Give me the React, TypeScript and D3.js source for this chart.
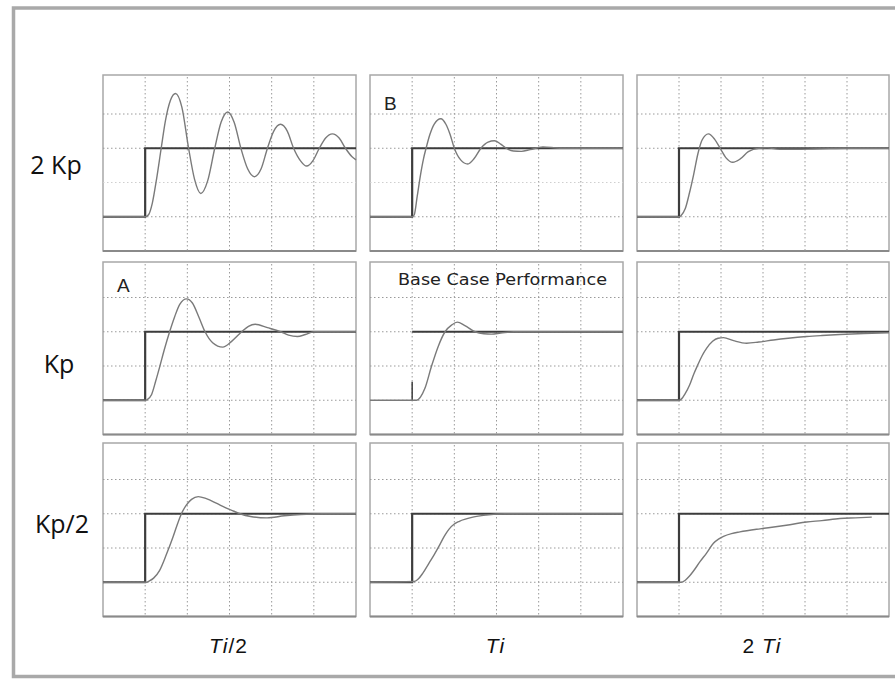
import React from "react";
import * as d3 from "d3";

const rowLabels = ["2 Kp", "Kp", "Kp/2"];
const colLabels = [
  { it: "Ti", rest: "/2", pre: "" },
  { it: "Ti", rest: "", pre: "" },
  { it: "Ti", rest: "", pre: "2 " },
];
const gridTimes = [1, 2, 3, 4, 5];
const gridLevels = [1.5, 1, 0.5, 0];
const stepTime = 1;
const setpointLow = 0;
const setpointHigh = 1;

// responses, [time, value]; rows: 2Kp, Kp, Kp/2 ; cols: Ti/2, Ti, 2Ti
const r2KpHalfTi: [number, number][] = [
  [0, 0], [1, 0], [1.08, 0.03], [1.17, 0.2], [1.27, 0.55], [1.38, 1.0], [1.48, 1.4], [1.6, 1.7], [1.72, 1.8],
  [1.87, 1.6], [2.03, 1.0], [2.17, 0.55], [2.32, 0.34], [2.48, 0.52], [2.65, 1.0], [2.8, 1.38], [2.96, 1.53],
  [3.11, 1.38], [3.27, 1.0], [3.43, 0.7], [3.59, 0.585], [3.75, 0.7], [3.9, 1.0], [4.05, 1.25], [4.21, 1.35],
  [4.37, 1.25], [4.52, 1.0], [4.68, 0.82], [4.83, 0.74], [4.98, 0.82], [5.13, 1.0], [5.28, 1.15], [5.44, 1.21],
  [5.6, 1.15], [5.75, 1.0], [5.9, 0.88], [6.0, 0.83],
];
const r2KpTi: [number, number][] = [
  [0, 0], [1, 0], [1.05, 0.03], [1.12, 0.3], [1.2, 0.62], [1.27, 0.85], [1.33, 1.0], [1.42, 1.2], [1.52, 1.35],
  [1.68, 1.43], [1.8, 1.35], [1.9, 1.2], [2.0, 1.0], [2.15, 0.83], [2.32, 0.77], [2.47, 0.85], [2.63, 1.0],
  [2.8, 1.09], [2.95, 1.11], [3.1, 1.06], [3.23, 1.0], [3.4, 0.96], [3.59, 0.955], [3.8, 0.98], [4.1, 1.02],
  [4.5, 1.0], [5, 1.0], [6, 1.0],
];
const r2Kp2Ti: [number, number][] = [
  [0, 0], [1, 0], [1.05, 0.02], [1.15, 0.12], [1.25, 0.35], [1.35, 0.62], [1.45, 0.92], [1.55, 1.12], [1.7, 1.21],
  [1.85, 1.13], [1.98, 1.0], [2.12, 0.86], [2.28, 0.795], [2.45, 0.84], [2.65, 0.95], [2.9, 1.0], [3.1, 1.005],
  [3.4, 0.985], [3.8, 0.985], [4.2, 0.99], [4.6, 0.995], [5, 1.0], [6, 1.0],
];
const rKpHalfTi: [number, number][] = [
  [0, 0], [1, 0], [1.05, 0.01], [1.15, 0.08], [1.25, 0.28], [1.35, 0.5], [1.45, 0.73], [1.58, 1.0], [1.7, 1.22],
  [1.82, 1.4], [1.98, 1.48], [2.12, 1.42], [2.27, 1.22], [2.42, 1.0], [2.6, 0.84], [2.84, 0.776], [3.05, 0.86],
  [3.29, 1.0], [3.45, 1.08], [3.61, 1.11], [3.9, 1.06], [4.21, 1.0], [4.4, 0.95], [4.61, 0.93], [4.8, 0.96],
  [5.0, 1.0], [5.5, 1.0], [6, 1.0],
];
const rKpTi: [number, number][] = [
  [0, 0], [1, 0], [1.1, 0], [1.2, 0.05], [1.3, 0.17], [1.46, 0.5], [1.62, 0.79], [1.78, 1.0], [1.94, 1.1],
  [2.07, 1.14], [2.25, 1.09], [2.49, 1.0], [2.7, 0.97], [2.88, 0.965], [3.1, 0.98], [3.4, 1.0], [6, 1.0],
];
const rKp2Ti: [number, number][] = [
  [0, 0], [1, 0], [1.06, 0.02], [1.15, 0.1], [1.25, 0.22], [1.35, 0.38], [1.45, 0.52], [1.55, 0.65], [1.66, 0.76],
  [1.8, 0.86], [1.93, 0.905], [2.06, 0.914], [2.3, 0.87], [2.61, 0.833], [2.9, 0.85], [3.25, 0.88], [3.6, 0.905],
  [4.04, 0.93], [4.4, 0.945], [4.83, 0.96], [5.4, 0.975], [6.0, 0.985],
];
const rHalfKpHalfTi: [number, number][] = [
  [0, 0], [1.02, 0], [1.1, 0.02], [1.2, 0.06], [1.34, 0.17], [1.5, 0.4], [1.66, 0.66], [1.76, 0.84], [1.86, 1.0],
  [1.98, 1.13], [2.1, 1.21], [2.26, 1.25], [2.45, 1.22], [2.7, 1.15], [2.9, 1.09], [3.09, 1.04], [3.25, 1.0],
  [3.5, 0.96], [3.89, 0.94], [4.3, 0.97], [4.69, 0.99], [5.2, 1.0], [6, 1.0],
];
const rHalfKpTi: [number, number][] = [
  [0, 0], [1.05, 0.01], [1.15, 0.05], [1.25, 0.13], [1.4, 0.28], [1.52, 0.4], [1.64, 0.53], [1.76, 0.67],
  [1.88, 0.78], [2.0, 0.85], [2.12, 0.89], [2.44, 0.95], [2.75, 0.98], [3.2, 1.0], [6, 1.0],
];
const rHalfKp2Ti: [number, number][] = [
  [0, 0], [1.05, 0], [1.15, 0.03], [1.25, 0.09], [1.34, 0.16], [1.5, 0.3], [1.66, 0.43], [1.82, 0.57],
  [1.94, 0.63], [2.06, 0.67], [2.25, 0.71], [2.45, 0.735], [2.93, 0.78], [3.3, 0.81], [3.64, 0.84], [4.04, 0.88],
  [4.4, 0.9], [4.83, 0.93], [5.2, 0.94], [5.59, 0.95],
];

const responses = [
  [r2KpHalfTi, r2KpTi, r2Kp2Ti],
  [rKpHalfTi, rKpTi, rKp2Ti],
  [rHalfKpHalfTi, rHalfKpTi, rHalfKp2Ti],
];
const panelTags: Record<string, string> = { "0-1": "B", "1-0": "A" };
const baseCaseKey = "1-1";
const baseCaseTitle = "Base Case Performance";

// layout
const colX: [number, number][] = [[103, 356], [370, 623], [637, 889]];
const rowY: [number, number][] = [[75, 251], [262, 434.5], [443, 616.5]];
const unitPx = 68.5;

export default function App() {
  const lineGen = (xs: d3.ScaleLinear<number, number>, ys: d3.ScaleLinear<number, number>) =>
    d3.line<[number, number]>().x((d) => xs(d[0])).y((d) => ys(d[1])).curve(d3.curveMonotoneX);

  return (
    <svg width={895} height={679} style={{ display: "block", position: "absolute", left: 0, top: 0, background: "#fff" }}>
      <rect x={0} y={0} width={895} height={679} fill="#fff" />
      <rect x={13.5} y={8} width={885} height={668.5} fill="#fff" stroke="#a9a9a9" strokeWidth={3.5} />
      {rowY.map(([top, bottom], ri) =>
        colX.map(([x0, x1], ci) => {
          const xs = d3.scaleLinear().domain([0, 6]).range([x0, x1]);
          const ys = d3.scaleLinear().domain([-0.5, 2]).range([bottom, bottom - 2.5 * unitPx]);
          const key = `${ri}-${ci}`;
          const isBase = key === baseCaseKey;
          const lg = lineGen(xs, ys);
          const spLow: [number, number][] = [[0, setpointLow], [stepTime, setpointLow]];
          const spHigh: [number, number][] = [[stepTime, setpointHigh], [6, setpointHigh]];
          return (
            <g key={key}>
              <rect x={x0} y={top} width={x1 - x0} height={bottom - top} fill="#fff" stroke="#a8a8a8" strokeWidth={1.5} />
              <line x1={x0} x2={x1} y1={bottom} y2={bottom} stroke="#8a8a8a" strokeWidth={2} />
              {gridTimes.map((t) => (
                <line key={"v" + t} x1={xs(t)} x2={xs(t)} y1={top + 2} y2={bottom} stroke="#9a9a9a" strokeWidth={1} strokeDasharray="1.5,2.5" />
              ))}
              {gridLevels.map((v) => (
                <line key={"h" + v} x1={x0} x2={x1} y1={ys(v)} y2={ys(v)} stroke={v === 0.5 && ri === 0 ? "#cfcfcf" : "#9a9a9a"} strokeWidth={1} strokeDasharray="1.5,2.5" />
              ))}
              {!isBase && (
                <path d={lg([...spLow, ...spHigh]) || ""} fill="none" stroke="#3c3c3c" strokeWidth={2.2} />
              )}
              {isBase && (
                <g>
                  <path d={lg(spHigh) || ""} fill="none" stroke="#3c3c3c" strokeWidth={2.2} />
                  <line x1={xs(stepTime)} x2={xs(stepTime)} y1={ys(0)} y2={ys(0.27)} stroke="#3c3c3c" strokeWidth={1.5} />
                </g>
              )}
              <path d={lg(responses[ri][ci]) || ""} fill="none" stroke="#7a7a7a" strokeWidth={1.4} />
              {panelTags[key] && (
                <text x={x0 + 14} y={top + (ri === 0 ? 35 : 30)} fontFamily="Liberation Sans, Arial, sans-serif" fontSize={19} fill="#222">
                  {panelTags[key]}
                </text>
              )}
              {isBase && (
                <text x={x0 + 28} y={top + 23} fontFamily="DejaVu Sans, sans-serif" fontSize={15} textLength={209} lengthAdjust="spacingAndGlyphs" fill="#222">
                  {baseCaseTitle}
                </text>
              )}
            </g>
          );
        })
      )}
      {rowLabels.map((l, ri) => {
        const cy = [167, 366, 526][ri];
        return (
          <text key={l} x={[56, 59, 62][ri]} y={cy} textAnchor="middle" dominantBaseline="middle" fontFamily="Open Sans, sans-serif" fontSize={25} fill="#111">
            {l}
          </text>
        );
      })}
      {colLabels.map((c, ci) => (
        <text key={ci} x={(colX[ci][0] + colX[ci][1]) / 2 - 1} y={653} textAnchor="middle" fontFamily="Liberation Sans, Arial, sans-serif" fontSize={21} fill="#111" letterSpacing={1}>
          {c.pre}
          <tspan fontStyle="italic">{c.it}</tspan>
          {c.rest}
        </text>
      ))}
    </svg>
  );
}
